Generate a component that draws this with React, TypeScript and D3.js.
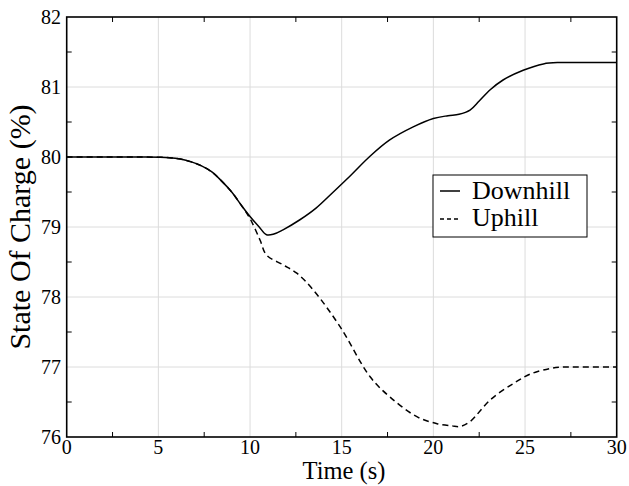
import React from "react"
import * as d3 from "d3"

// Downhill run
const timeDown = [0, 2, 4, 5.6, 6.2, 6.8, 7.3, 7.9, 8.4, 9.0, 9.5, 10.0, 10.5, 10.9, 11.3, 11.8, 12.7, 13.6, 14.5, 15.5, 16.5, 17.6, 18.9, 20.0, 20.8, 21.4, 22.0, 22.5, 23.1, 23.8, 24.9, 26.0, 26.9, 28, 30]
const socDown = [80, 80, 80, 79.99, 79.97, 79.93, 79.88, 79.79, 79.67, 79.5, 79.32, 79.15, 79.0, 78.89, 78.9, 78.96, 79.1, 79.27, 79.49, 79.74, 80.0, 80.24, 80.43, 80.55, 80.59, 80.61, 80.67, 80.8, 80.96, 81.1, 81.24, 81.33, 81.35, 81.35, 81.35]

// Uphill run
const timeUp = [0, 2, 4, 5.6, 6.2, 6.8, 7.3, 7.9, 8.4, 9.0, 9.5, 10.0, 10.55, 10.9, 11.8, 12.55, 13.45, 14.9, 16.55, 17.64, 19.1, 20.2, 21.0, 21.45, 22.0, 23.1, 24.4, 25.3, 26.4, 27.1, 28, 30]
const socUp = [80, 80, 80, 79.99, 79.97, 79.93, 79.88, 79.79, 79.67, 79.5, 79.32, 79.12, 78.81, 78.6, 78.46, 78.34, 78.1, 77.58, 76.86, 76.57, 76.29, 76.19, 76.16, 76.15, 76.22, 76.53, 76.77, 76.9, 76.98, 77.0, 77.0, 77.0]

const xTicks = [0, 5, 10, 15, 20, 25, 30]
const yTicks = [76, 77, 78, 79, 80, 81, 82]
const xMinor = [2.5, 7.5, 12.5, 17.5, 22.5, 27.5]
const yMinor = [76.5, 77.5, 78.5, 79.5, 80.5, 81.5]

const seriesNames = ["Downhill", "Uphill"]

const W = 629
const H = 486
const left = 66.7
const right = 616.7
const top = 17
const bottom = 437
const font = '"Liberation Serif", "Times New Roman", Times, "DejaVu Serif", serif'
const dash = "6,4"

export default function App() {
  const x = d3.scaleLinear().domain([0, 30]).range([left, right])
  const y = d3.scaleLinear().domain([76, 82]).range([bottom, top])

  const line = d3
    .line<[number, number]>()
    .x((d) => x(d[0]))
    .y((d) => y(d[1]))
    .curve(d3.curveCatmullRom.alpha(0.5))

  const down = timeDown.map((t, i) => [t, socDown[i]] as [number, number])
  const up = timeUp.map((t, i) => [t, socUp[i]] as [number, number])

  const tick = 5

  return (
    <svg
      width={W}
      height={H}
      style={{ position: "absolute", left: 0, top: 0, background: "#fff", fontFamily: font }}
    >
      {/* grid */}
      {xTicks.slice(1, -1).map((t) => (
        <line key={"gx" + t} x1={x(t)} x2={x(t)} y1={top} y2={bottom} stroke="#dcdcdc" strokeWidth={1} />
      ))}
      {yTicks.slice(1, -1).map((v) => (
        <line key={"gy" + v} x1={left} x2={right} y1={y(v)} y2={y(v)} stroke="#dcdcdc" strokeWidth={1} />
      ))}

      {/* minor ticks, pointing inwards on all four sides */}
      {xMinor.map((t) => (
        <g key={"mx" + t} stroke="#000" strokeWidth={1}>
          <line x1={x(t)} x2={x(t)} y1={bottom} y2={bottom - tick} />
          <line x1={x(t)} x2={x(t)} y1={top} y2={top + tick} />
        </g>
      ))}
      {yMinor.map((v) => (
        <g key={"my" + v} stroke="#000" strokeWidth={1}>
          <line x1={left} x2={left + tick} y1={y(v)} y2={y(v)} />
          <line x1={right} x2={right - tick} y1={y(v)} y2={y(v)} />
        </g>
      ))}

      {/* curves */}
      <path d={line(down) || ""} fill="none" stroke="#000" strokeWidth={1.5} />
      <path d={line(up) || ""} fill="none" stroke="#000" strokeWidth={1.5} strokeDasharray={dash} />

      {/* frame */}
      <rect x={left} y={top} width={right - left} height={bottom - top} fill="none" stroke="#000" strokeWidth={1.6} />

      {/* tick labels */}
      {xTicks.map((t) => (
        <text key={"lx" + t} x={x(t)} y={454} fontSize={20} textAnchor="middle">
          {t}
        </text>
      ))}
      {yTicks.map((v) => (
        <text key={"ly" + v} x={61} y={y(v) + 7} fontSize={20} textAnchor="end">
          {v}
        </text>
      ))}

      {/* axis titles */}
      <text x={344} y={479} fontSize={24.5} textAnchor="middle">
        Time (s)
      </text>
      <text transform={`translate(30,${(top + bottom) / 2}) rotate(-90)`} fontSize={30} textAnchor="middle">
        State Of Charge (%)
      </text>

      {/* legend */}
      <g>
        <rect x={433} y={175} width={154} height={62} fill="#fff" stroke="#000" strokeWidth={1} />
        <line x1={440} x2={460} y1={191} y2={191} stroke="#000" strokeWidth={1.5} />
        <line x1={440} x2={460} y1={219} y2={219} stroke="#000" strokeWidth={1.5} strokeDasharray="4,3" />
        <text x={472} y={199} fontSize={26}>
          {seriesNames[0]}
        </text>
        <text x={472} y={226} fontSize={26}>
          {seriesNames[1]}
        </text>
      </g>
    </svg>
  )
}
